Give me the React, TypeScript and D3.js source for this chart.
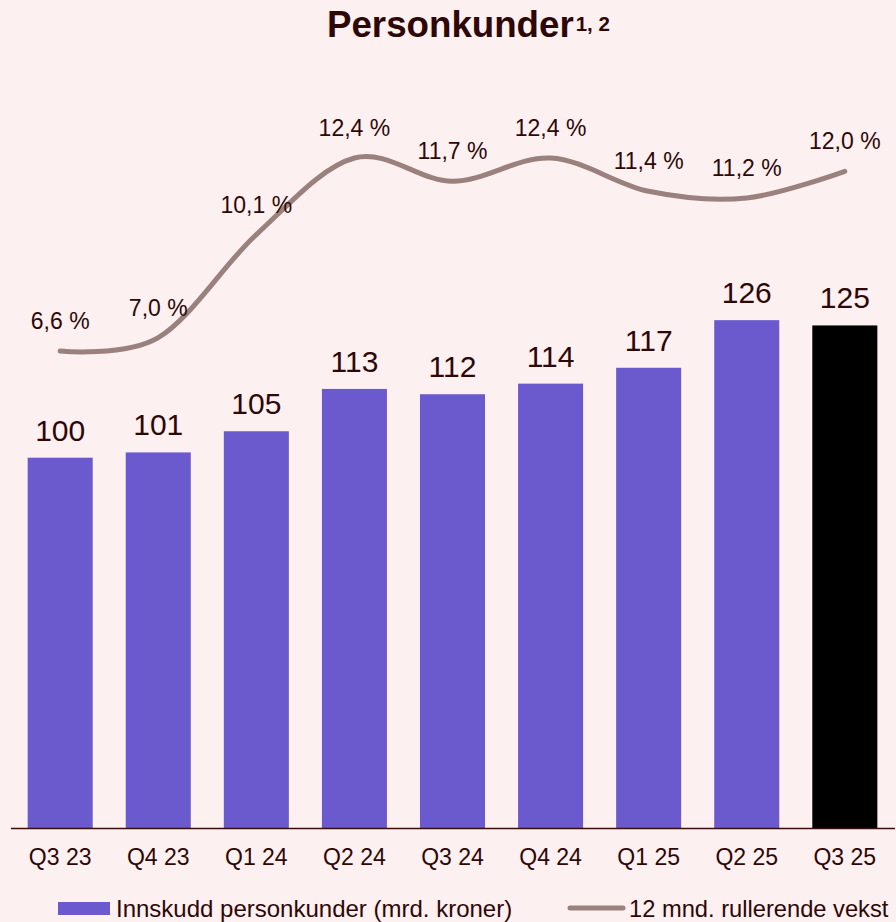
import React, { useRef, useEffect } from 'react';
import * as d3 from 'd3';

const quarters = ['Q3 23', 'Q4 23', 'Q1 24', 'Q2 24', 'Q3 24', 'Q4 24', 'Q1 25', 'Q2 25', 'Q3 25'];
const deposits = [100, 101, 105, 113, 112, 114, 117, 126, 125];
const growth = [6.6, 7.0, 10.1, 12.4, 11.7, 12.4, 11.4, 11.2, 12.0];

const BG = '#fdf0f0';
const TEXT = '#2e0707';
const BAR = '#6a5acd';
const LINE = '#9b817d';

const App: React.FC = () => {
  const svgRef = useRef<SVGSVGElement | null>(null);
  const width = 896;
  const height = 922;

  useEffect(() => {
    const svg = d3.select(svgRef.current);
    svg.selectAll('*').remove();

    svg.append('rect').attr('width', width).attr('height', height).attr('fill', BG);

    const baseline = 828;
    const x = d3.scaleBand().domain(quarters).range([11, 894]).paddingInner(0.337).paddingOuter(0.17);
    const yBar = d3.scaleLinear().domain([30, 130]).range([baseline, 299]);
    const yLine = d3.scaleLinear().domain([0, 15]).range([570.6, 71.5]);

    // Title
    const title = svg.append('text')
      .attr('x', 327)
      .attr('y', 37)
      .attr('fill', TEXT)
      .style('font-family', 'Liberation Sans, Arial, sans-serif');
    title.append('tspan').attr('font-size', 36.7).attr('font-weight', 'bold').text('Personkunder');
    title.append('tspan').attr('font-size', 20.5).attr('font-weight', 'bold').attr('dx', 2).attr('dy', -6).text('1, 2');

    const g = svg.append('g').style('font-family', 'Liberation Sans, Arial, sans-serif');

    // Bars
    g.selectAll('.bar')
      .data(deposits)
      .enter()
      .append('rect')
      .attr('class', 'bar')
      .attr('x', (_, i) => x(quarters[i])!)
      .attr('y', d => yBar(d))
      .attr('width', x.bandwidth())
      .attr('height', d => baseline - yBar(d))
      .attr('fill', (_, i) => (i === quarters.length - 1 ? '#000000' : BAR));

    // Bar labels
    g.selectAll('.bar-label')
      .data(deposits)
      .enter()
      .append('text')
      .attr('class', 'bar-label')
      .attr('x', (_, i) => x(quarters[i])! + x.bandwidth() / 2)
      .attr('y', d => yBar(d) - 17)
      .attr('text-anchor', 'middle')
      .attr('font-size', 30)
      .attr('fill', TEXT)
      .text(d => String(d));

    // Axis line
    g.append('line')
      .attr('x1', 11)
      .attr('x2', 895)
      .attr('y1', baseline + 0.5)
      .attr('y2', baseline + 0.5)
      .attr('stroke', '#3a0d0d')
      .attr('stroke-width', 1.5);

    // Category labels
    g.selectAll('.cat')
      .data(quarters)
      .enter()
      .append('text')
      .attr('class', 'cat')
      .attr('x', d => x(d)! + x.bandwidth() / 2)
      .attr('y', 865)
      .attr('text-anchor', 'middle')
      .attr('font-size', 23)
      .attr('fill', TEXT)
      .text(d => d);

    // Growth line
    const line = d3.line<number>()
      .x((_, i) => x(quarters[i])! + x.bandwidth() / 2)
      .y(d => yLine(d))
      .curve(d3.curveCardinal.tension(0));

    g.append('path')
      .datum(growth)
      .attr('d', line)
      .attr('fill', 'none')
      .attr('stroke', LINE)
      .attr('stroke-width', 5)
      .attr('stroke-linecap', 'round');

    g.selectAll('.pct')
      .data(growth)
      .enter()
      .append('text')
      .attr('class', 'pct')
      .attr('x', (_, i) => x(quarters[i])! + x.bandwidth() / 2)
      .attr('y', d => yLine(d) - 22)
      .attr('text-anchor', 'middle')
      .attr('font-size', 23)
      .attr('fill', TEXT)
      .text(d => `${d.toFixed(1).replace('.', ',')} %`);

    // Legend
    const legend = g.append('g');
    legend.append('rect').attr('x', 58).attr('y', 902).attr('width', 52).attr('height', 13).attr('fill', BAR);
    legend.append('text')
      .attr('x', 116).attr('y', 917)
      .attr('font-size', 24).attr('fill', TEXT)
      .text('Innskudd personkunder (mrd. kroner)');
    legend.append('line')
      .attr('x1', 570).attr('x2', 623).attr('y1', 908).attr('y2', 908)
      .attr('stroke', LINE).attr('stroke-width', 5).attr('stroke-linecap', 'round');
    legend.append('text')
      .attr('x', 629).attr('y', 917)
      .attr('font-size', 23.7).attr('fill', TEXT)
      .text('12 mnd. rullerende vekst');
  }, []);

  return (
    <svg
      ref={svgRef}
      width={width}
      height={height}
      style={{ position: 'absolute', left: 0, top: 0, display: 'block' }}
    />
  );
};

export default App;
